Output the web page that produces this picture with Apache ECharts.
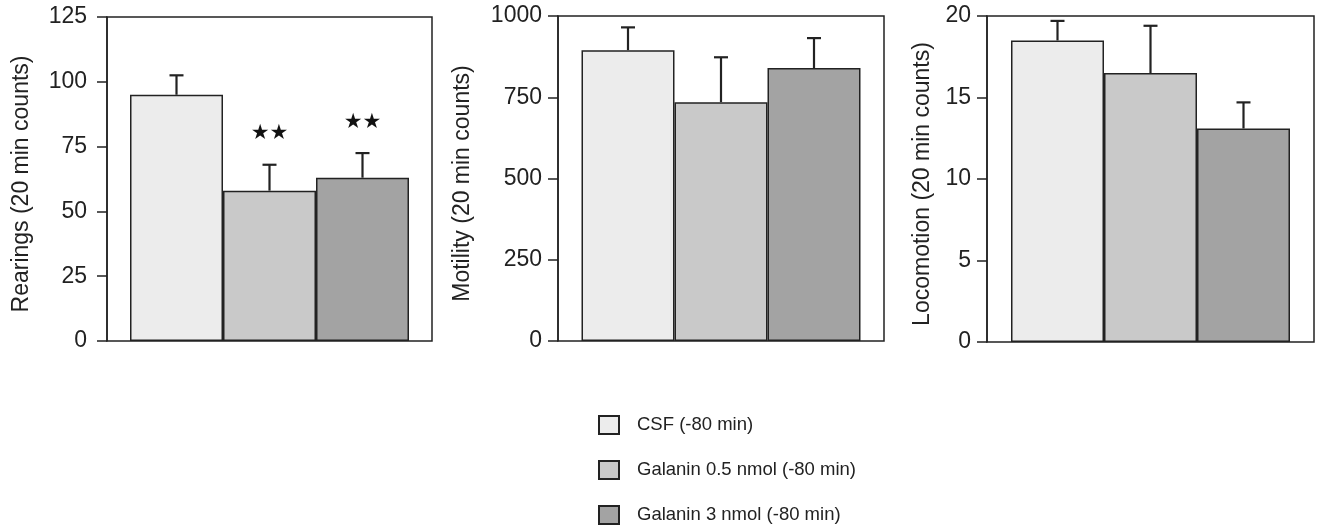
<!DOCTYPE html>
<html>
<head>
<meta charset="utf-8">
<script src="https://cdn.jsdelivr.net/npm/echarts@6/dist/echarts.min.js"></script>
<style>
  html, body { margin: 0; padding: 0; background: #fff; }
  #chart { width: 1317px; height: 529px; }
</style>
</head>
<body>
<div id="chart"></div>
<script>
var groups = ['CSF (-80 min)', 'Galanin 0.5 nmol (-80 min)', 'Galanin 3 nmol (-80 min)'];
var colors = ['#ececec', '#c9c9c9', '#a3a3a3'];

var rearings = [95, 58, 63];
var rearingsErr = [7.5, 10, 9.5];
var rearingsStars = ['', '★★', '★★'];

var motility = [895, 735, 840];
var motilityErr = [70, 138, 92];

var locomotion = [18.5, 16.5, 13.1];
var locomotionErr = [1.2, 2.9, 1.6];

var axisNames = ['Rearings (20 min counts)', 'Motility (20 min counts)', 'Locomotion (20 min counts)'];
var axisMax = [125, 1000, 20];
var axisStep = [25, 250, 5];

var panels = [
    { values: rearings, err: rearingsErr, stars: rearingsStars },
    { values: motility, err: motilityErr, stars: ['', '', ''] },
    { values: locomotion, err: locomotionErr, stars: ['', '', ''] }
];

var barW = 93;
var font = 'Liberation Sans, Arial, sans-serif';
var ink = '#222';

var grids = [
    { left: 107, top: 17, width: 325, height: 324 },
    { left: 558, top: 16, width: 326, height: 325 },
    { left: 987, top: 16, width: 327, height: 326 }
];
var nameGaps = [74, 84, 53];
var labelMargins = [20, 16, 16];

var myChart = echarts.init(document.getElementById('chart'));

var series = [];
panels.forEach(function (p, pi) {
    groups.forEach(function (g, gi) {
        series.push({
            name: g,
            type: 'bar',
            xAxisIndex: pi,
            yAxisIndex: pi,
            data: [p.values[gi]],
            barWidth: barW,
            barGap: '0%',
            itemStyle: { color: colors[gi], borderColor: ink, borderWidth: 1.5 },
            emphasis: { disabled: true },
            silent: true
        });
    });
    // error bars (upper only) + significance stars
    series.push({
        type: 'custom',
        xAxisIndex: pi,
        yAxisIndex: pi,
        z: 5,
        silent: true,
        data: p.values.map(function (v, i) { return [0, v, v + p.err[i], i]; }),
        renderItem: function (params, api) {
            var base = api.coord([0, api.value(1)]);
            var top = api.coord([0, api.value(2)]);
            var x = base[0] + (api.value(3) - 1) * barW;
            var star = p.stars[api.value(3)];
            var kids = [
                { type: 'line', shape: { x1: x, y1: base[1], x2: x, y2: top[1] }, style: { stroke: ink, lineWidth: 2.2 } },
                { type: 'line', shape: { x1: x - 7, y1: top[1], x2: x + 7, y2: top[1] }, style: { stroke: ink, lineWidth: 2.2 } }
            ];
            if (star) {
                kids.push({
                    type: 'text',
                    style: {
                        text: star, x: x, y: top[1] - 31,
                        align: 'center', verticalAlign: 'middle',
                        font: '21px DejaVu Sans', fill: '#111'
                    }
                });
            }
            return { type: 'group', children: kids };
        }
    });
});

var option = {
    backgroundColor: '#fff',
    animation: false,
    grid: grids.map(function (g) {
        return {
            left: g.left, top: g.top, width: g.width, height: g.height,
            show: true, borderColor: ink, borderWidth: 1.5, backgroundColor: 'transparent'
        };
    }),
    xAxis: grids.map(function (g, i) {
        return {
            type: 'category', gridIndex: i, data: ['x'],
            axisLine: { show: false }, axisTick: { show: false }, axisLabel: { show: false }
        };
    }),
    yAxis: grids.map(function (g, i) {
        return {
            type: 'value', gridIndex: i, min: 0, max: axisMax[i], interval: axisStep[i],
            name: axisNames[i], nameLocation: 'middle', nameGap: nameGaps[i],
            nameTextStyle: { fontFamily: font, fontSize: 23, color: ink, padding: [0, 10, 0, 0] },
            axisLine: { show: true, lineStyle: { color: ink, width: 1.5 } },
            axisTick: { show: true, length: 10, lineStyle: { color: ink, width: 1.5 } },
            axisLabel: {
                fontFamily: font, fontSize: 23, color: ink, margin: labelMargins[i],
                formatter: function (v) { return String(v); }
            },
            splitLine: { show: false }
        };
    }),
    legend: {
        data: groups,
        orient: 'vertical',
        left: 593,
        top: 410,
        height: 130,
        itemWidth: 20,
        itemHeight: 18,
        itemGap: 25,
        icon: 'rect',
        selectedMode: false,
        textStyle: { fontFamily: font, fontSize: 18.5, color: ink, lineHeight: 18, padding: [0, 0, 0, 13] }
    },
    series: series
};

myChart.setOption(option);
</script>
</body>
</html>
